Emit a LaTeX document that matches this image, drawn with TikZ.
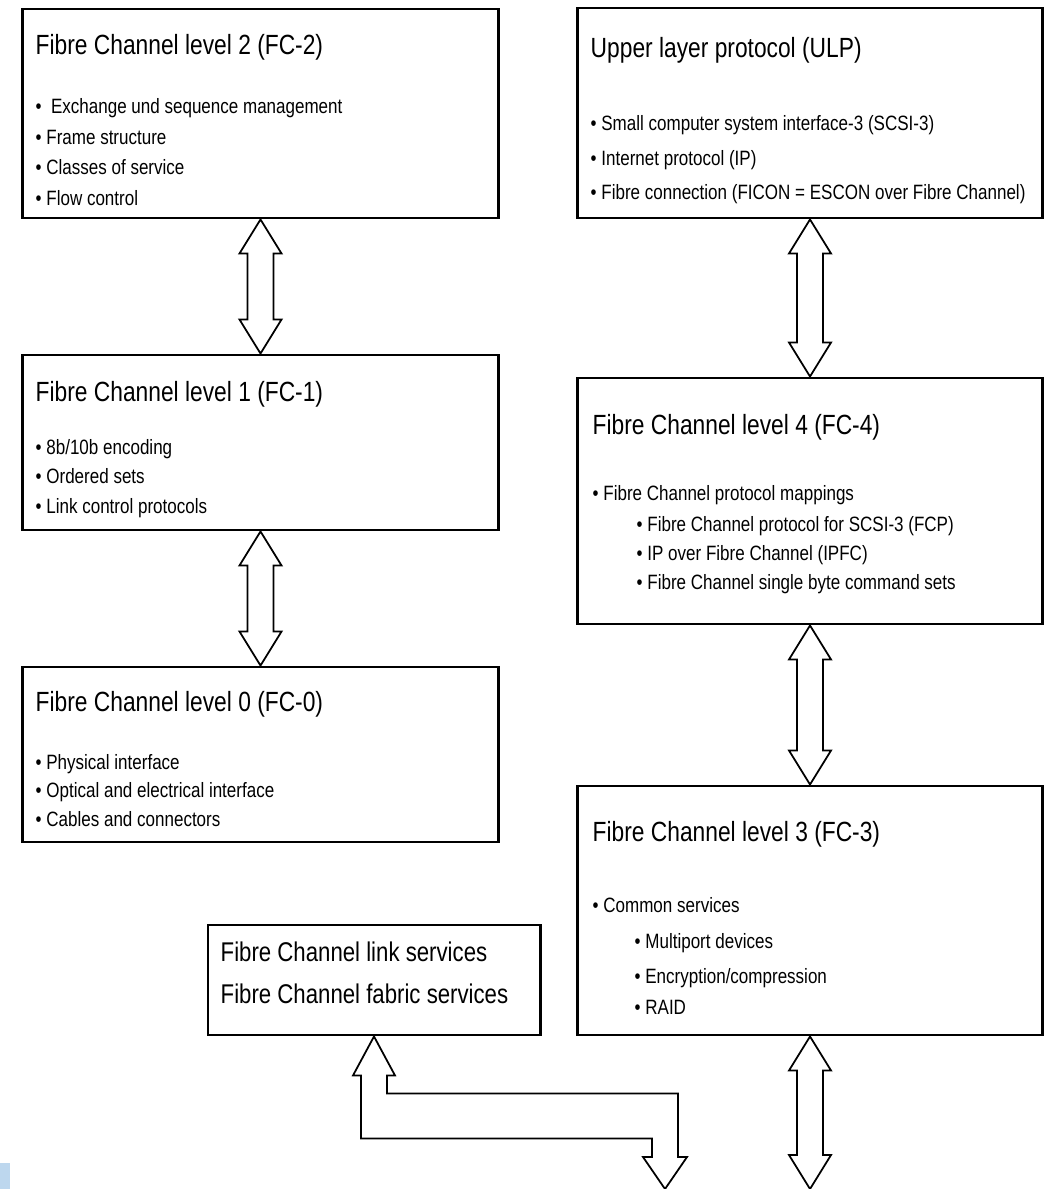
\documentclass[tikz,border=0pt]{standalone}
\usepackage{fontspec}
\setmainfont{Liberation Sans}[FakeStretch=0.82]
\usepackage{tikz}
\usetikzlibrary{calc}
\usepackage{xcolor}
\definecolor{cornerblue}{RGB}{189,215,238}

% hollow double arrow between two anchors (top tip, bottom tip)
\newcommand{\fatarrow}[2]{%
  \draw[fat] (#1) -- ($(#1)+(21,34)$) -- ($(#1)+(13,34)$) -- ($(#2)+(13,-34)$)
    -- ($(#2)+(21,-34)$) -- (#2) -- ($(#2)+(-21,-34)$) -- ($(#2)+(-13,-34)$)
    -- ($(#1)+(-13,34)$) -- ($(#1)+(-21,34)$) -- cycle;}

\begin{document}
\begin{tikzpicture}[
  x=0.01cm, y=-0.01cm,
  box/.style={draw, line width=0.8pt, inner sep=0pt, fill=white},
  ttl/.style={anchor=west, inner sep=0pt, text height=5.6pt, text depth=0pt, font=\fontsize{7.9}{9}\selectfont},
  itm/.style={anchor=west, inner sep=0pt, text height=4.2pt, text depth=0pt, font=\fontsize{5.9}{7}\selectfont},
  fat/.style={draw, line width=0.5pt, fill=white, line join=miter}
]
\useasboundingbox (0,0) rectangle (1048,1189);

% left column
\node[box, minimum width=4.75cm, minimum height=2.09cm] (fc2) at (260.5,113.5) {};
\node[ttl] (t2) at (35,45) {Fibre Channel level 2 (FC-2)};
\node[itm] (b2a) at (35,106) {\textbullet\ \ Exchange und sequence management};
\node[itm] (b2b) at (35,137) {\textbullet\ Frame structure};
\node[itm] (b2c) at (35,167) {\textbullet\ Classes of service};
\node[itm] (b2d) at (35,198) {\textbullet\ Flow control};

\node[box, minimum width=4.75cm, minimum height=1.75cm] (fc1) at (260.5,442.5) {};
\node[ttl] (t1) at (35,392) {Fibre Channel level 1 (FC-1)};
\node[itm] (b1a) at (35,447) {\textbullet\ 8b/10b encoding};
\node[itm] (b1b) at (35,476) {\textbullet\ Ordered sets};
\node[itm] (b1c) at (35,506) {\textbullet\ Link control protocols};

\node[box, minimum width=4.75cm, minimum height=1.75cm] (fc0) at (260.5,754.5) {};
\node[ttl] (t0) at (35,702) {Fibre Channel level 0 (FC-0)};
\node[itm] (b0a) at (35,762) {\textbullet\ Physical interface};
\node[itm] (b0b) at (35,790) {\textbullet\ Optical and electrical interface};
\node[itm] (b0c) at (35,819) {\textbullet\ Cables and connectors};

% right column
\node[box, minimum width=4.64cm, minimum height=2.10cm] (ulp) at (810,113) {};
\node[ttl] (tu) at (590,48) {Upper layer protocol (ULP)};
\node[itm] (bua) at (590,123) {\textbullet\ Small computer system interface-3 (SCSI-3)};
\node[itm] (bub) at (590,158) {\textbullet\ Internet protocol (IP)};
\node[itm] (buc) at (590,192) {\textbullet\ Fibre connection (FICON = ESCON over Fibre Channel)};

\node[box, minimum width=4.64cm, minimum height=2.46cm] (fc4) at (810,501) {};
\node[ttl] (t4) at (592,425) {Fibre Channel level 4 (FC-4)};
\node[itm] (b4a) at (592,493) {\textbullet\ Fibre Channel protocol mappings};
\node[itm] (b4b) at (636,524) {\textbullet\ Fibre Channel protocol for SCSI-3 (FCP)};
\node[itm] (b4c) at (636,553) {\textbullet\ IP over Fibre Channel (IPFC)};
\node[itm] (b4d) at (636,582) {\textbullet\ Fibre Channel single byte command sets};

\node[box, minimum width=4.64cm, minimum height=2.49cm] (fc3) at (810,910.5) {};
\node[ttl] (t3) at (592,832) {Fibre Channel level 3 (FC-3)};
\node[itm] (b3a) at (592,905) {\textbullet\ Common services};
\node[itm] (b3b) at (634,941) {\textbullet\ Multiport devices};
\node[itm] (b3c) at (634,976) {\textbullet\ Encryption/compression};
\node[itm] (b3d) at (634,1007) {\textbullet\ RAID};

\node[box, minimum width=3.32cm, minimum height=1.10cm] (lnk) at (374,980) {};
\node[ttl, font=\fontsize{7.7}{9}\selectfont] (tla) at (220,952) {Fibre Channel link services};
\node[ttl, font=\fontsize{7.7}{9}\selectfont] (tlb) at (220,994) {Fibre Channel fabric services};

% free ends at the lower edge
\coordinate (lnkend) at (665,1189);
\coordinate (fc3end) at (810,1189);

% connectors
\fatarrow{fc2.south}{fc1.north}
\fatarrow{fc1.south}{fc0.north}
\fatarrow{ulp.south}{fc4.north}
\fatarrow{fc4.south}{fc3.north}
\fatarrow{fc3.south}{fc3end}
\draw[fat] (lnk.south) -- ($(lnk.south)+(21,39)$) -- ($(lnk.south)+(13,39)$)
  -- ($(lnk.south)+(13,57)$) -| ($(lnkend)+(13,-32)$) -- ($(lnkend)+(22,-32)$)
  -- (lnkend) -- ($(lnkend)+(-22,-32)$) -- ($(lnkend)+(-13,-32)$)
  |- ($(lnk.south)+(-13,102)$) -- ($(lnk.south)+(-13,39)$) -- ($(lnk.south)+(-21,39)$) -- cycle;

\fill[cornerblue] (0,1163) rectangle (10,1189);
\end{tikzpicture}
\end{document}
